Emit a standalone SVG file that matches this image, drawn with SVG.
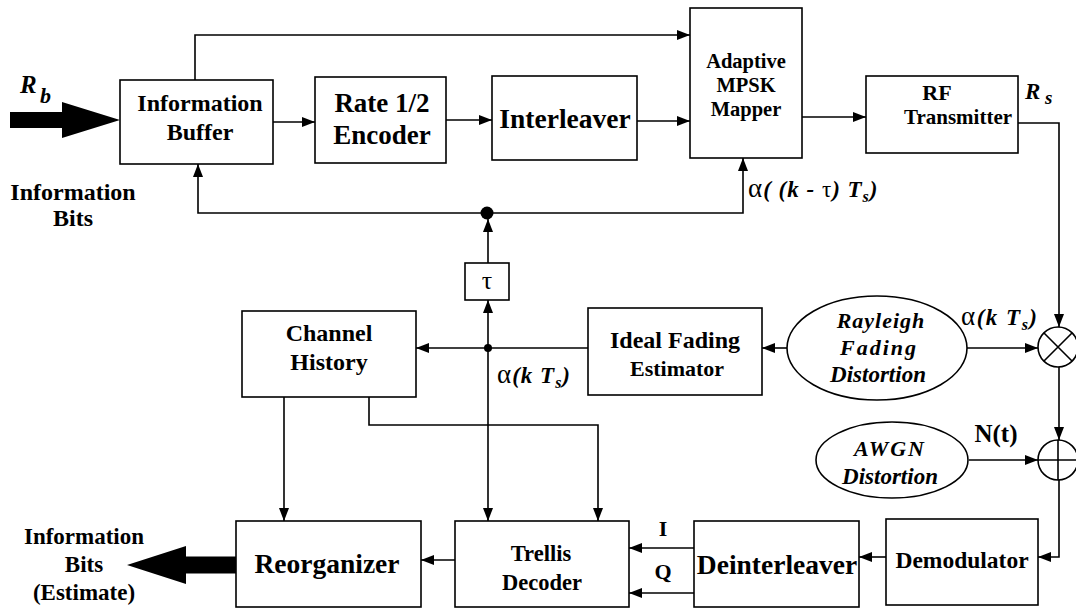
<svg xmlns="http://www.w3.org/2000/svg" width="1076" height="609" viewBox="0 0 1076 609">
<style>
.box{fill:#fff;stroke:#000;stroke-width:1.6}
.ell{fill:#fff;stroke:#000;stroke-width:1.6}
.t{font-family:"Liberation Serif","Times New Roman",serif;font-weight:bold;fill:#000;text-anchor:middle}
.ti{font-family:"Liberation Serif","Times New Roman",serif;font-weight:bold;font-style:italic;fill:#000;text-anchor:middle}
.lbl{font-family:"Liberation Serif","Times New Roman",serif;font-weight:bold;font-style:italic;fill:#000}
.c{fill:none;stroke:#000;stroke-width:1.6}
.ca{fill:none;stroke:#000;stroke-width:1.6;marker-end:url(#ah)}
</style>
<defs>
<marker id="ah" markerUnits="userSpaceOnUse" markerWidth="14" markerHeight="10" refX="13" refY="5" orient="auto">
<path d="M0,0 L13,5 L0,10 z" fill="#000"/>
</marker>
</defs>
<rect width="1076" height="609" fill="#fff"/>

<g id="connectors">
<path class="ca" d="M195,80 V35 H690"/>
<path class="ca" d="M273,122 H315"/>
<path class="ca" d="M446,120 H492"/>
<path class="ca" d="M637,121 H690"/>
<path class="ca" d="M802,117 H866"/>
<path class="ca" d="M1018,123 H1059 V327"/>
<path class="ca" d="M487,213 H198 V164"/>
<path class="ca" d="M487,213 H743 V158"/>
<circle cx="487" cy="213" r="6.5" fill="#000"/>
<path class="ca" d="M488,263 V219"/>
<path class="ca" d="M488,348 V300"/>
<path class="ca" d="M488,348 H416"/>
<path class="c" d="M588,348 H488"/>
<path class="ca" d="M787,348 H762"/>
<path class="ca" d="M967,348 H1038"/>
<path class="ca" d="M1059,367 V440"/>
<path class="ca" d="M969,460 H1038"/>
<path class="ca" d="M1059,480 V557 H1038"/>
<path class="ca" d="M886,557 H859"/>
<path class="ca" d="M694,548 H629"/>
<path class="ca" d="M694,593 H629"/>
<path class="ca" d="M455,560 H421"/>
<path class="ca" d="M284,397 V521"/>
<path class="ca" d="M369,397 V425 H598 V521"/>
<path class="ca" d="M488,348 V521"/>
<circle cx="488" cy="348" r="4" fill="#000"/>
<path d="M10,112 H62 V102 L120,120 L62,138 V128 H10 z" fill="#000"/>
<path d="M236,556.5 H186 V546 L127,565 L186,584 V573.5 H236 z" fill="#000"/>
</g>

<g id="labels">
<text class="lbl" x="20" y="93" font-size="25">R</text>
<text class="lbl" x="40" y="103" font-size="22">b</text>
<text class="t" x="73" y="200" font-size="24">Information</text>
<text class="t" x="73" y="226" font-size="24">Bits</text>
<text class="lbl" x="1025" y="99" font-size="23">R</text>
<text class="lbl" x="1045" y="104" font-size="19">s</text>
<text class="lbl" x="748" y="197" font-size="23" letter-spacing="1"><tspan font-style="normal" font-weight="normal" font-size="27">α</tspan>( (k - <tspan font-style="normal" font-weight="normal">τ</tspan>) T<tspan dy="5" font-size="16">s</tspan><tspan dy="-5">)</tspan></text>
<text class="lbl" x="497" y="383" font-size="23" letter-spacing="1"><tspan font-style="normal" font-weight="normal" font-size="27">α</tspan>(k T<tspan dy="5" font-size="16">s</tspan><tspan dy="-5">)</tspan></text>
<text class="lbl" x="961" y="325" font-size="23" letter-spacing="1.5"><tspan font-style="normal" font-weight="normal" font-size="27">α</tspan>(k T<tspan dy="5" font-size="16">s</tspan><tspan dy="-5">)</tspan></text>
<text class="t" x="996" y="442" font-size="25">N(t)</text>
<text class="t" x="663" y="536" font-size="22">I</text>
<text class="t" x="663" y="579" font-size="22">Q</text>
<text class="t" x="84" y="544" font-size="23">Information</text>
<text class="t" x="84" y="572" font-size="23">Bits</text>
<text class="t" x="84" y="600" font-size="23">(Estimate)</text>
</g>

<g id="info-buffer">
<rect class="box" x="120" y="80" width="153" height="84"/>
<text class="t" x="200" y="111" font-size="24">Information</text>
<text class="t" x="200" y="140" font-size="24">Buffer</text>
</g>
<g id="encoder">
<rect class="box" x="315" y="77" width="131" height="86"/>
<text class="t" x="382" y="112" font-size="27">Rate 1/2</text>
<text class="t" x="382" y="144" font-size="27">Encoder</text>
</g>
<g id="interleaver">
<rect class="box" x="492" y="76" width="145" height="84"/>
<text class="t" x="565" y="128" font-size="27.5">Interleaver</text>
</g>
<g id="mapper">
<rect class="box" x="690" y="8" width="112" height="150"/>
<text class="t" x="746" y="68" font-size="20.5">Adaptive</text>
<text class="t" x="746" y="92" font-size="20.5">MPSK</text>
<text class="t" x="746" y="116" font-size="20.5">Mapper</text>
</g>
<g id="rf-transmitter">
<rect class="box" x="866" y="76" width="152" height="77"/>
<text class="t" x="937" y="100" font-size="22">RF</text>
<text class="t" x="958" y="124" font-size="21">Transmitter</text>
</g>
<g id="tau">
<rect class="box" x="465" y="263" width="44" height="37"/>
<text x="487" y="289" font-family="Liberation Serif, serif" font-size="26" text-anchor="middle">τ</text>
</g>
<g id="channel-history">
<rect class="box" x="242" y="311" width="174" height="86"/>
<text class="t" x="329" y="341" font-size="24">Channel</text>
<text class="t" x="329" y="370" font-size="24">History</text>
</g>
<g id="fading-estimator">
<rect class="box" x="588" y="308" width="174" height="87"/>
<text class="t" x="675" y="348" font-size="24">Ideal Fading</text>
<text class="t" x="677" y="376" font-size="22">Estimator</text>
</g>
<g id="rayleigh">
<ellipse class="ell" cx="877" cy="348" rx="90" ry="52"/>
<text class="ti" x="881" y="328" font-size="22" letter-spacing="1">Rayleigh</text>
<text class="ti" x="879" y="355" font-size="22" letter-spacing="2">Fading</text>
<text class="ti" x="878" y="382" font-size="23">Distortion</text>
</g>
<g id="multiplier">
<circle class="box" cx="1058" cy="347" r="20"/>
<path class="c" d="M1044,333 L1072,361 M1044,361 L1072,333"/>
</g>
<g id="adder">
<circle class="box" cx="1058" cy="460" r="20"/>
<path class="c" d="M1038,460 H1078 M1058,440 V480"/>
</g>
<g id="awgn">
<ellipse class="ell" cx="892" cy="460" rx="76" ry="38"/>
<text class="ti" x="890" y="456" font-size="22" letter-spacing="2">AWGN</text>
<text class="ti" x="890" y="484" font-size="23">Distortion</text>
</g>
<g id="demodulator">
<rect class="box" x="886" y="519" width="152" height="86"/>
<text class="t" x="962" y="568" font-size="23.5">Demodulator</text>
</g>
<g id="deinterleaver">
<rect class="box" x="694" y="521" width="165" height="86"/>
<text class="t" x="777" y="574" font-size="27.5">Deinterleaver</text>
</g>
<g id="trellis-decoder">
<rect class="box" x="455" y="521" width="174" height="86"/>
<text class="t" x="541" y="561" font-size="22.5">Trellis</text>
<text class="t" x="542" y="590" font-size="22.5">Decoder</text>
</g>
<g id="reorganizer">
<rect class="box" x="236" y="521" width="185" height="86"/>
<text class="t" x="327" y="573" font-size="27.5">Reorganizer</text>
</g>
</svg>
